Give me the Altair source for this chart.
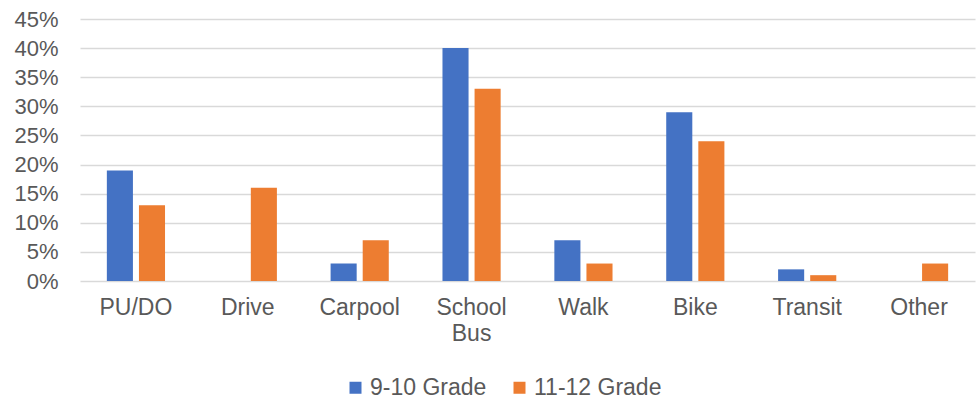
import altair as alt
import pandas as pd

categories = ["PU/DO", "Drive", "Carpool", "School Bus", "Walk", "Bike", "Transit", "Other"]
grade_9_10 = [19, 0, 3, 40, 7, 29, 2, 0]
grade_11_12 = [13, 16, 7, 33, 3, 24, 1, 3]
series = ["9-10 Grade", "11-12 Grade"]
colors = ["#4472C4", "#ED7D31"]
y_ticks = [0, 5, 10, 15, 20, 25, 30, 35, 40, 45]

rows = []
for c, a, b in zip(categories, grade_9_10, grade_11_12):
    rows.append({"cat": c, "series": series[0], "value": a})
    rows.append({"cat": c, "series": series[1], "value": b})
df = pd.DataFrame(rows)

FONT = "Liberation Sans"
TXT = "#595959"

chart = alt.Chart(df).mark_bar(strokeWidth=0).encode(
    x=alt.X("cat:N", sort=categories, title=None,
            scale=alt.Scale(paddingInner=0.48, paddingOuter=0.24),
            axis=alt.Axis(labelAngle=0, labelFont=FONT, labelFontSize=23,
                          labelColor=TXT, labelPadding=15, ticks=False,
                          domain=False, grid=False, labelLineHeight=26,
                          labelExpr="datum.label == 'School Bus' ? ['School', 'Bus'] : datum.label")),
    xOffset=alt.XOffset("series:N", sort=series,
                        scale=alt.Scale(paddingInner=0.1875, paddingOuter=0)),
    y=alt.Y("value:Q", title=None,
            scale=alt.Scale(domain=[0, 45], nice=False),
            axis=alt.Axis(values=y_ticks, labelExpr="datum.value + '%'",
                          labelFont=FONT, labelFontSize=22, labelColor=TXT,
                          labelPadding=22, ticks=False, domain=False,
                          grid=True, gridColor="#D9D9D9", gridWidth=1.3)),
    color=alt.Color("series:N", sort=series,
                    scale=alt.Scale(domain=series, range=colors),
                    legend=alt.Legend(title=None, orient="none", direction="horizontal",
                                      legendX=264, legendY=357,
                                      symbolType="square", symbolSize=144,
                                      symbolStrokeWidth=0, labelFont=FONT,
                                      labelFontSize=23, labelColor=TXT,
                                      labelOffset=3, columnPadding=21)),
).properties(
    width=895, height=262,
    background="white",
    autosize=alt.AutoSizeParams(type="none"),
    padding={"left": 80, "top": 19, "right": 2, "bottom": 119},
).configure_view(stroke=None)

chart.save("out.html", embed_options={"renderer": "svg", "actions": False})
